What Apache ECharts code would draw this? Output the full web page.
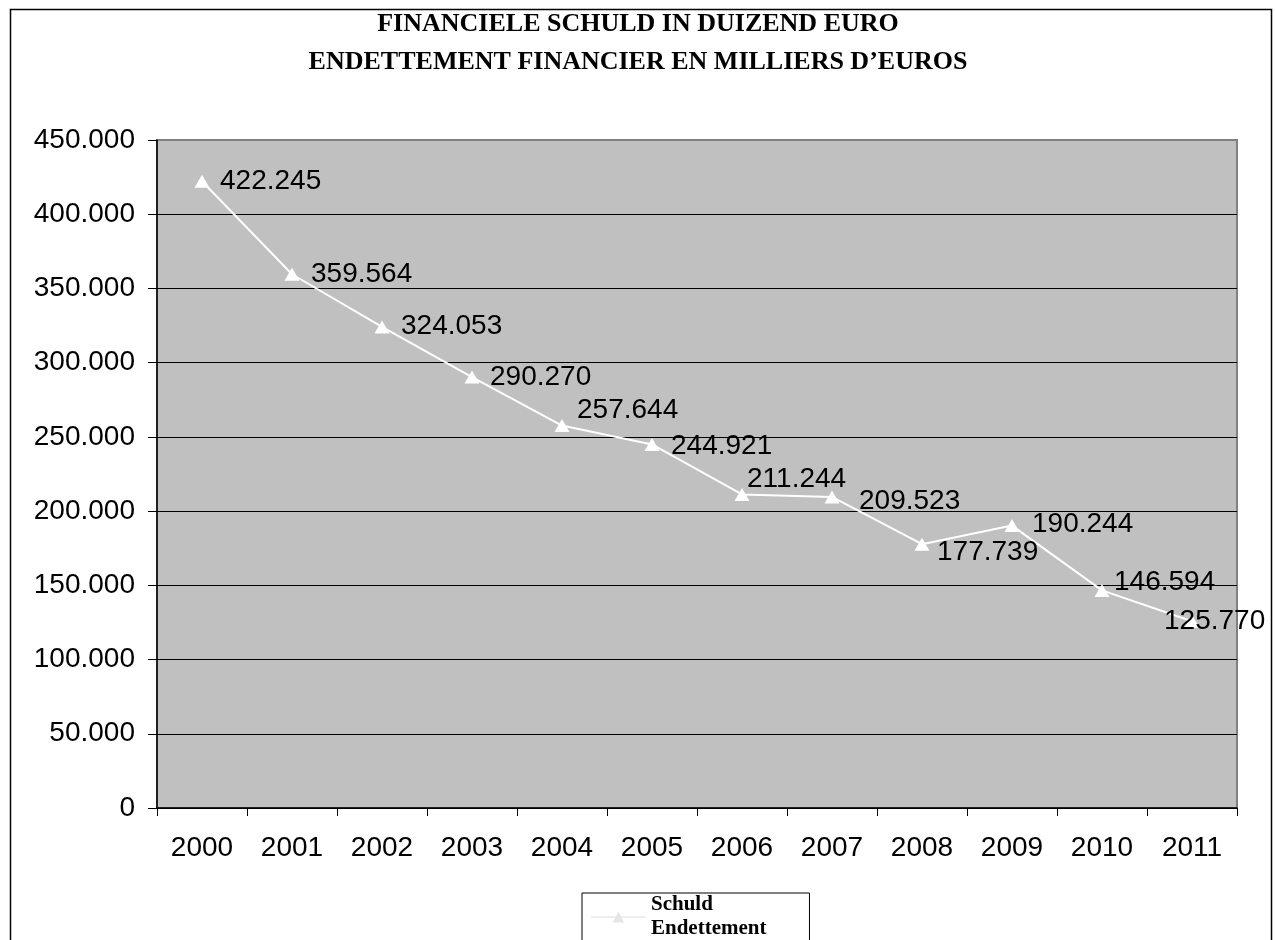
<!DOCTYPE html>
<html>
<head>
<meta charset="utf-8">
<script src="https://cdn.jsdelivr.net/npm/echarts@6/dist/echarts.min.js"></script>
<style>
html,body{margin:0;padding:0;background:#fff;}
#chart{width:1276px;height:940px;}
</style>
</head>
<body>
<div id="chart"></div>
<script>
var years = ['2000','2001','2002','2003','2004','2005','2006','2007','2008','2009','2010','2011'];
var debt = [422245, 359564, 324053, 290270, 257644, 244921, 211244, 209523, 177739, 190244, 146594, 125770];
var seriesName = 'Schuld\nEndettement';
var titleLines = ['FINANCIELE SCHULD IN DUIZEND EURO', 'ENDETTEMENT FINANCIER EN MILLIERS D\u2019EUROS'];
// label nudges (style only): [dx, dy] from point to label left/middle
var labelNudges = [[18,0],[19,0],[19,-1],[18,0],[15,-15],[19,2],[5,-15],[27,4],[15,8],[20,-1],[12,-8],[-28,0]];

function fmt(v){ return String(v).replace(/\B(?=(\d{3})+(?!\d))/g, '.'); }

var chart = echarts.init(document.getElementById('chart'));
var seriesData = debt.map(function(v, i){
  return { value: v, label: { offset: labelNudges[i] } };
});
chart.setOption({
  animation: false,
  backgroundColor: '#ffffff',
  title: {
    text: titleLines.join('\n'),
    left: 'center',
    top: 0,
    textStyle: { fontFamily: 'Liberation Serif', fontWeight: 'bold', fontSize: 26, lineHeight: 38, color: '#000' }
  },
  graphic: [{
    type: 'rect', left: 8, top: 7, z: -10,
    shape: { width: 1261, height: 960 },
    style: { fill: 'none', stroke: '#000', lineWidth: 1.5 }
  }],
  legend: {
    left: 582, top: 893,
    orient: 'vertical',
    padding: [0, 43, 6, 8],
    itemWidth: 55, itemHeight: 14, itemGap: 0,
    borderColor: '#000', borderWidth: 1,
    backgroundColor: '#fff',
    itemStyle: { color: '#e6e6e6' },
    lineStyle: { color: '#eeeeee' },
    textStyle: { fontFamily: 'Liberation Serif', fontWeight: 'bold', fontSize: 21, lineHeight: 24, color: '#000' },
    data: [seriesName]
  },
  grid: {
    left: 157, right: 39, top: 140, bottom: 132,
    show: true, backgroundColor: '#c0c0c0', borderColor: '#808080', borderWidth: 2
  },
  xAxis: {
    type: 'category',
    data: years,
    boundaryGap: true,
    axisLine: { lineStyle: { color: '#000', width: 1.5 } },
    axisTick: { show: true, length: 8, lineStyle: { color: '#000' } },
    axisLabel: { margin: 26, fontFamily: 'Liberation Sans', fontSize: 28, color: '#000' },
    splitLine: { show: false }
  },
  yAxis: {
    type: 'value',
    min: 0, max: 450000, interval: 50000,
    axisLine: { show: true, lineStyle: { color: '#000', width: 1.5 } },
    axisTick: { show: true, length: 9, lineStyle: { color: '#000' } },
    axisLabel: { margin: 22, fontFamily: 'Liberation Sans', fontSize: 28, color: '#000', formatter: function(v){ return fmt(v); } },
    splitLine: { show: true, showMaxLine: false, lineStyle: { color: '#000', width: 1 } }
  },
  series: [{
    name: seriesName,
    type: 'line',
    data: seriesData,
    symbol: 'triangle',
    symbolSize: [15, 13],
    itemStyle: { color: '#ffffff' },
    lineStyle: { color: '#ffffff', width: 2 },
    label: {
      show: true,
      position: 'inside',
      align: 'left',
      verticalAlign: 'middle',
      fontFamily: 'Liberation Sans',
      fontSize: 28,
      color: '#000',
      formatter: function(p){ return fmt(p.value); }
    }
  }]
});
</script>
</body>
</html>
